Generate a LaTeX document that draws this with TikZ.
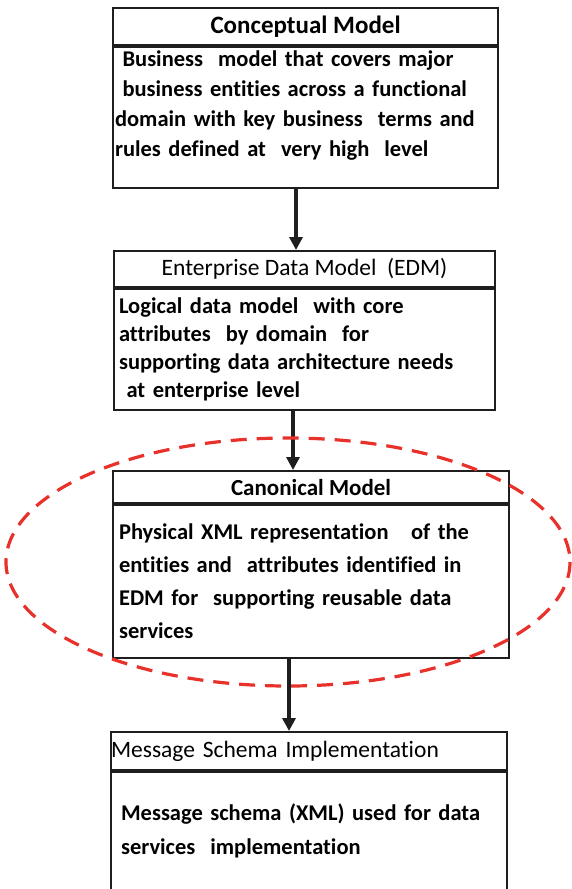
\documentclass[tikz,border=0pt]{standalone}
\usepackage{fontspec}
\setmainfont{Carlito}[Ligatures=NoCommon]
\usepackage{xcolor}
\usetikzlibrary{positioning, arrows.meta}
\definecolor{mRed}{HTML}{E8312A}
\definecolor{mInk}{HTML}{1E1E1E}

\tikzset{
  titlebox/.style={draw=mInk, line width=2.1pt, anchor=north west, inner sep=0pt,
    font=\fontsize{23.5}{26}\selectfont},
  bodybox/.style={draw=mInk, line width=2.1pt, anchor=north west, align=left,
    inner ysep=0pt, font=\bfseries\fontsize{22.5}{30}\selectfont},
  flow/.style={draw=mInk, line width=3.6pt, -{Triangle[length=13pt, width=13pt]}},
  ring/.style={mRed, line width=3.2pt, dash pattern=on 16pt off 10pt},
}

\begin{document}
\begin{tikzpicture}[x=1pt, y=-1pt]
    \useasboundingbox (0,0) rectangle (571,889);

    % conceptual model
    \node[titlebox, font=\bfseries\fontsize{25}{28}\selectfont, minimum width=385, minimum height=37] (concT) at (112,7)
      {Conceptual Model};
    \node[bodybox, text width=381, inner xsep=2, minimum height=141, text depth=119pt] (concB) at (concT.south west)
      {\ Business\ \ model that covers major\\
       \ business entities across a functional\\
       domain with key business\ \ terms and\\
       rules defined at\ \ very high\ \ level};

    % enterprise data model
    \node[titlebox, minimum width=381, minimum height=36] (edmT) at (113,250)
      {Enterprise Data Model\ \ (EDM)};
    \node[bodybox, text width=371, inner xsep=5, minimum height=121,
      font=\bfseries\fontsize{22.5}{28}\selectfont] (edmB) at (edmT.south west)
      {Logical data model\ \ with core\\
       attributes\ \ by domain\ \ for\\
       supporting data architecture needs\\
       \ at enterprise level};

    % canonical model
    \node[titlebox, font=\bfseries\fontsize{23}{26}\selectfont, minimum width=396, minimum height=32] (canT) at (112,470)
      {Canonical Model};
    \node[bodybox, text width=384, inner xsep=6, minimum height=153,
      font=\bfseries\fontsize{22.5}{33}\selectfont] (canB) at (canT.south west)
      {Physical XML representation\ \ \ of the\\
       entities and\ \ attributes identified in\\
       EDM for\ \ supporting reusable data\\
       services};

    % message schema
    \node[titlebox, align=left, text width=396, minimum height=38] (msgT) at (110,731)
      {Message Schema Implementation};
    \node[bodybox, text width=376, inner xsep=10, minimum height=118,
      font=\bfseries\fontsize{22.5}{34}\selectfont] (msgB) at (msgT.south west)
      {Message schema (XML) used for data\\
       services\ \ implementation};

    % connectors
    \coordinate (a1) at (296,0);
    \coordinate (a2) at (293,0);
    \coordinate (a3) at (289,0);
    \draw[flow] (concB.south -| a1) -- (edmT.north -| a1);
    \draw[flow] (edmB.south -| a2) -- (canT.north -| a2);
    \draw[flow] (canB.south -| a3) -- (msgT.north -| a3);

    % highlight round the canonical model
    \draw[ring] (288,562) ellipse [x radius=282, y radius=124];
  \end{tikzpicture}
\end{document}
